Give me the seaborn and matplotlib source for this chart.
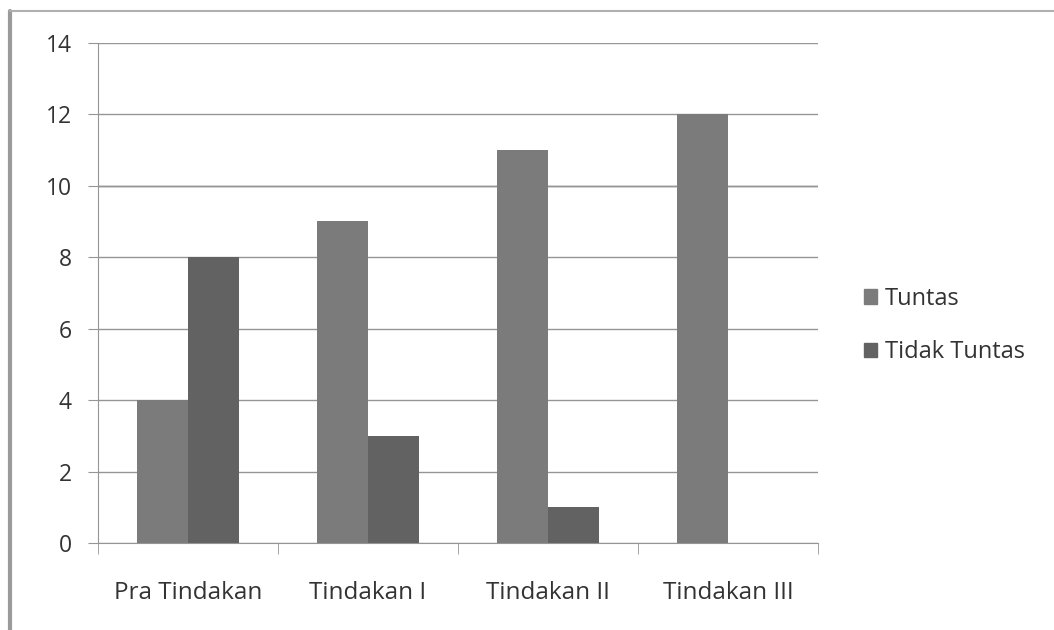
import matplotlib
matplotlib.use('Agg')
import matplotlib.pyplot as plt
import seaborn as sns
import pandas as pd
from matplotlib.lines import Line2D
from matplotlib.patches import Patch

# Data
kategori = ['Pra Tindakan', 'Tindakan I', 'Tindakan II', 'Tindakan III']
tuntas = [4, 9, 11, 12]
tidak_tuntas = [8, 3, 1, 0]

df = pd.DataFrame({
    'Tahap': kategori * 2,
    'Nilai': tuntas + tidak_tuntas,
    'Status': ['Tuntas'] * 4 + ['Tidak Tuntas'] * 4,
})

sns.set_style('white')
plt.rcParams['font.family'] = ['Open Sans', 'DejaVu Sans']

fig = plt.figure(figsize=(10.54, 6.3), dpi=100)
ax = fig.add_axes([0.093, 0.138, 0.683, 0.794])

warna = {'Tuntas': '#7b7b7b', 'Tidak Tuntas': '#626262'}
sns.barplot(data=df, x='Tahap', y='Nilai', hue='Status', palette=warna,
            width=0.567, ax=ax, legend=False, saturation=1, linewidth=0)

ax.set_ylim(0, 14)
ax.set_xlim(-0.5, 3.5)
ax.set_yticks(range(0, 15, 2))
ax.yaxis.grid(True, color='#959595', linewidth=1)
ax.set_axisbelow(True)
for s in ['top', 'right']:
    ax.spines[s].set_visible(False)
ax.spines['left'].set_color('#959595')
ax.spines['bottom'].set_color('#959595')
ax.set_xlabel('')
ax.set_ylabel('')

# garis 10 sedikit lebih gelap
ax.axhline(10, color='#6e6e6e', linewidth=1, zorder=0.5)

# tick kategori di batas
ax.set_xticks([0, 1, 2, 3])
ax.set_xticks([-0.5, 0.5, 1.5, 2.5, 3.5], minor=True)
ax.tick_params(axis='x', which='major', length=0, pad=27, labelsize=17.5, labelcolor='#333333')
ax.tick_params(axis='x', which='minor', length=8, color='#959595', direction='out', bottom=True)
ax.tick_params(axis='y', length=7, color='#959595', direction='out', left=True,
               labelsize=16.5, labelcolor='#333333', pad=12)

handles = [Patch(color=warna['Tuntas']), Patch(color=warna['Tidak Tuntas'])]
fig.legend(handles, ['Tuntas', 'Tidak Tuntas'], loc='center left',
           bbox_to_anchor=(0.8, 0.483), frameon=False, fontsize=17,
           handlelength=0.55, handleheight=0.55, handletextpad=0.3,
           labelspacing=1.25, labelcolor='#333333')

# garis bingkai luar
fig.add_artist(Line2D([0.0095, 0.0095], [0, 0.982], color='#9a9a9a', linewidth=3))
fig.add_artist(Line2D([0.0095, 1], [0.982, 0.982], color='#b0b0b0', linewidth=1.5))

fig.savefig('out.png', dpi=100)
